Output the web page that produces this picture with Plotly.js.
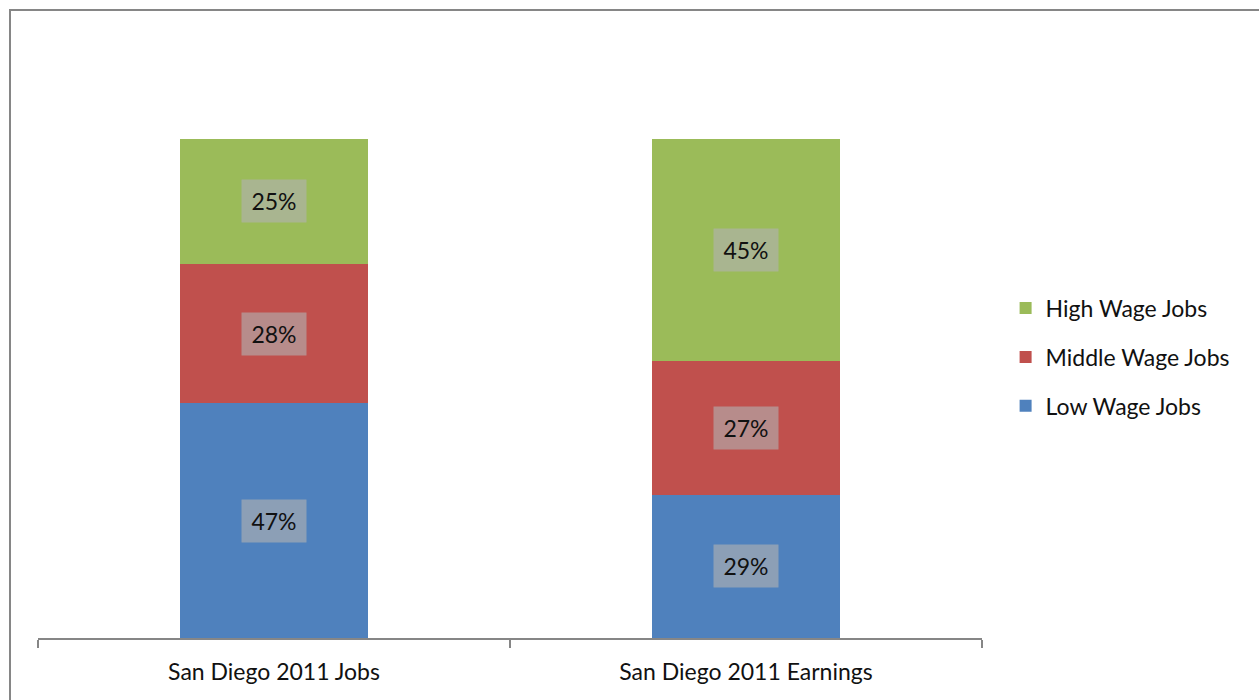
<!DOCTYPE html>
<html>
<head>
<meta charset="utf-8">
<script src="https://cdn.plot.ly/plotly-3.0.1.min.js"></script>
<style>
html,body{margin:0;padding:0;background:#fff;overflow:hidden;}
#wrap{position:relative;width:1259px;height:700px;}
#chart{width:1259px;height:700px;}
#frame{position:absolute;left:9px;top:9px;width:1400px;height:900px;border:2px solid #868686;pointer-events:none;box-sizing:border-box;}
</style>
</head>
<body>
<div id="wrap"><div id="chart"></div><div id="frame"></div></div>
<script>
const categories = ["San Diego 2011 Jobs", "San Diego 2011 Earnings"];
const lowWage = [47, 29];
const middleWage = [28, 27];
const highWage = [25, 45];
const seriesNames = ["Low Wage Jobs", "Middle Wage Jobs", "High Wage Jobs"];
const seriesColors = ["#4F81BD", "#C0504D", "#9BBB59"];

const series = [lowWage, middleWage, highWage];
const FONT = "Lato, 'Open Sans', sans-serif";
const FS = 23;

const traces = series.map((vals, i) => ({
  type: "bar",
  name: seriesNames[i],
  x: categories,
  y: vals,
  marker: {color: seriesColors[i], line: {width: 0}},
  legendgroup: "g" + i,
  legendrank: series.length - i,
  hoverinfo: "skip"
}));

const annotations = [];
categories.forEach((c, ci) => {
  const total = series.reduce((s, v) => s + v[ci], 0);
  let base = 0;
  series.forEach((vals, si) => {
    const h = vals[ci] / total * 100;
    annotations.push({
      x: c, y: base + h / 2, xref: "x", yref: "y",
      text: vals[ci] + "%", showarrow: false,
      font: {family: FONT, size: FS, color: "#111"},
      bgcolor: "rgba(178,178,178,0.62)",
      width: 60, height: 38, borderpad: 2
    });
    base += h;
  });
});

const layout = {
  width: 1259, height: 700,
  margin: {l: 38, r: 277, t: 39, b: 62},
  paper_bgcolor: "#fff", plot_bgcolor: "#fff",
  barmode: "stack", barnorm: "percent",
  bargap: 0.6,
  showlegend: true,
  legend: {
    x: 1.025, y: 0.469, yanchor: "middle", xanchor: "left",
    traceorder: "grouped", tracegroupgap: 16,
    font: {family: FONT, size: FS, color: "#111"},
    itemclick: false
  },
  xaxis: {
    type: "category",
    showline: true, linecolor: "#868686", linewidth: 2,
    ticks: "outside", tickson: "boundaries", ticklen: 8, tickcolor: "#868686", tickwidth: 2,
    ticklabelstandoff: 12,
    tickfont: {family: FONT, size: FS, color: "#111"},
    showgrid: false, zeroline: false, fixedrange: true
  },
  yaxis: {
    range: [0, 120], visible: false, showgrid: false, zeroline: false, fixedrange: true
  },
  annotations: annotations
};

Plotly.newPlot("chart", traces, layout, {displayModeBar: false, staticPlot: true});
</script>
</body>
</html>
